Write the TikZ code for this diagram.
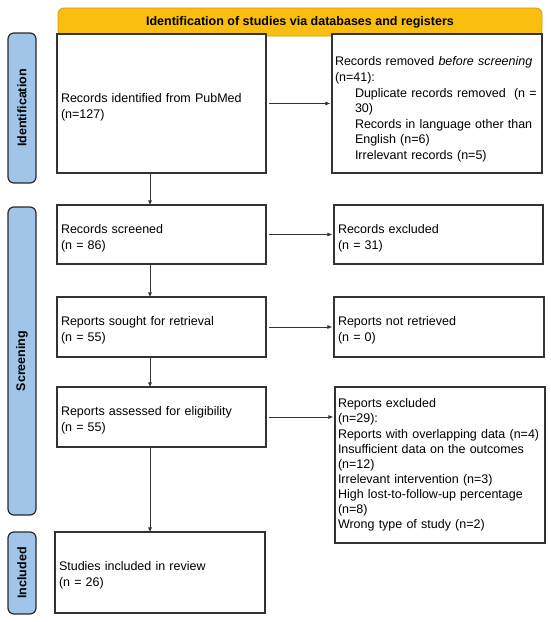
\documentclass[tikz,border=0pt]{standalone}
\usepackage{fontspec}
\setmainfont{Liberation Sans}
\usetikzlibrary{arrows.meta}
\definecolor{boxc}{RGB}{51,51,51}
\definecolor{bannerfill}{RGB}{250,190,15}
\definecolor{bannerdraw}{RGB}{205,155,20}
\definecolor{sidefill}{RGB}{160,197,232}
\definecolor{sidedraw}{RGB}{40,40,45}
\newcommand{\fs}{\fontsize{12.5}{15.6}\selectfont}
\newcommand{\dn}[1]{\rule{0pt}{#1}}
\begin{document}
\begin{tikzpicture}[x=1pt,y=-1pt,
  box/.style={draw=boxc, fill=white, line width=1.2pt, inner xsep=4pt, inner ysep=0pt, align=left, font=\fs},
  banner/.style={draw=bannerdraw, fill=bannerfill, line width=0.8pt, rounded corners=6pt, font=\fs\bfseries, inner sep=0pt},
  side/.style={draw=sidedraw, fill=sidefill, line width=1.2pt, rounded corners=6pt, font=\fs\bfseries, inner sep=0pt, minimum width=28pt},
  arr/.style={draw=boxc, line width=0.8pt, -{Latex[length=5pt,width=4pt]}}
]
\useasboundingbox (0,0) rectangle (550,622);
\fill[white] (0,0) rectangle (550,622);

% banner
\node[banner, minimum width=484pt, minimum height=28pt] (T) at (300,22) {\raisebox{-2pt}{Identification of studies via databases and registers}};

% side bars
\node[side, minimum height=150pt] (S1) at (22,108) {\rotatebox{90}{Identification}};
\node[side, minimum height=308pt] (S2) at (22,361) {\rotatebox{90}{Screening}};
\node[side, minimum height=82pt] (S3) at (22,573) {\rotatebox{90}{Included}};

% left column
\node[box, text width=201pt, minimum height=139pt] (A) at (161.5,103.5) {\dn{16pt}Records identified from PubMed\\(n=127)};
\node[box, text width=201pt, minimum height=59pt] (C) at (161.5,234.5) {\dn{16pt}Records screened\\(n = 86)};
\node[box, text width=201pt, minimum height=60pt] (E) at (161.5,327) {\dn{16pt}Reports sought for retrieval\\(n = 55)};
\node[box, text width=201pt, minimum height=60pt] (G) at (161.5,417) {\dn{16pt}Reports assessed for eligibility\\(n = 55)};
\node[box, text width=202pt, minimum height=81pt] (I) at (160,572.5) {\dn{14pt}Studies included in review\\(n = 26)};

% right column
\node[box, text width=204pt, minimum height=139pt, inner xsep=3pt] (B) at (437,103.5) {\dn{21pt}Records removed \textit{before screening}\\(n=41):\\
\hspace*{20pt}Duplicate records removed\ \ (n\ =\\
\hspace*{20pt}30)\\
\hspace*{20pt}Records in language other than\\
\hspace*{20pt}English (n=6)\\
\hspace*{20pt}Irrelevant records (n=5)};
\node[box, text width=201pt, minimum height=59pt] (D) at (438.5,234.5) {\dn{16pt}Records excluded\\(n = 31)};
\node[box, text width=202pt, minimum height=60pt] (F) at (439,327) {\dn{16pt}Reports not retrieved\\(n = 0)};
\node[box, text width=204pt, minimum height=156pt, inner xsep=3pt, font=\fontsize{12.5}{15.1}\selectfont] (H) at (440,465) {Reports excluded\\(n=29):\\Reports with overlapping data (n=4)\\Insufficient data on the outcomes\\(n=12)\\Irrelevant intervention (n=3)\\High lost-to-follow-up percentage\\(n=8)\\Wrong type of study (n=2)};

% arrows
\coordinate (vx) at (150,0);
\draw[arr] ([xshift=2pt]A.east) -- ([xshift=-1pt]B.west);
\draw[arr] ([xshift=2pt]C.east) -- ([xshift=-1pt]D.west);
\draw[arr] ([xshift=2pt]E.east) -- ([xshift=-1pt]F.west);
\draw[arr] ([xshift=2pt]G.east) -- ([xshift=-1pt]H.west |- G.east);
\draw[arr] (A.south -| vx) -- ([yshift=-1pt]C.north -| vx);
\draw[arr] (C.south -| vx) -- ([yshift=-1pt]E.north -| vx);
\draw[arr] (E.south -| vx) -- ([yshift=-1pt]G.north -| vx);
\draw[arr] (G.south -| vx) -- ([yshift=-1pt]I.north -| vx);
\end{tikzpicture}
\end{document}
